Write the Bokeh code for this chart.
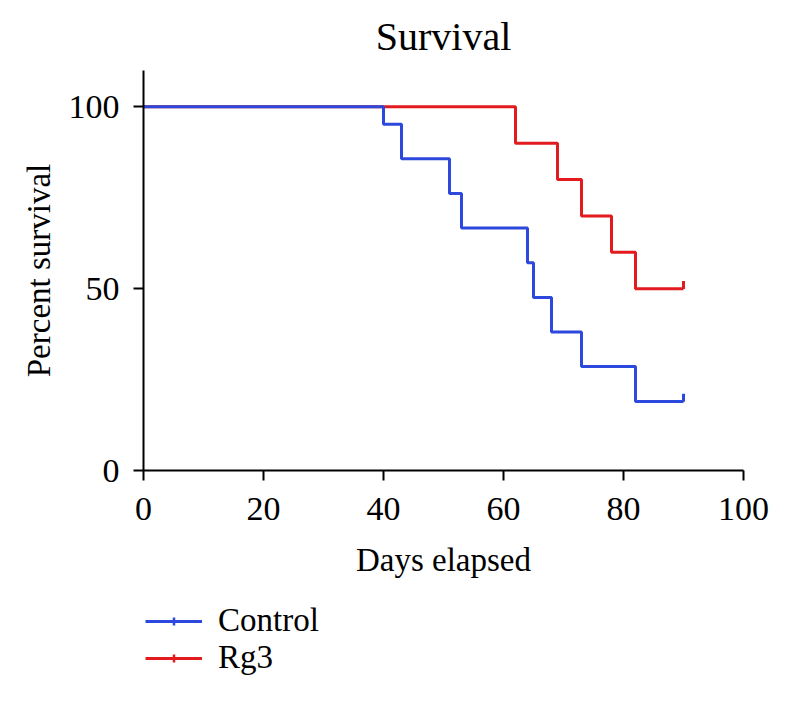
import math
from bokeh.plotting import figure
from bokeh.layouts import column
from bokeh.models import Legend, LegendItem, FixedTicker, Range1d
from bokeh.embed import file_html
from bokeh.resources import INLINE

# Data
control_days = [0, 40, 43, 51, 53, 64, 65, 68, 73, 82, 90]
control_surv = [100, 95.2, 85.7, 76.2, 66.7, 57.1, 47.6, 38.1, 28.6, 19.0, 19.0]
rg3_days = [0, 62, 69, 73, 78, 82, 90]
rg3_surv = [100, 90, 80, 70, 60, 50, 50]
control_censor_days = [90]
control_censor_surv = [19.0]
rg3_censor_days = [90]
rg3_censor_surv = [50]
x_ticks = [0, 20, 40, 60, 80, 100]
y_ticks = [0, 50, 100]
series_names = ["Control", "Rg3"]

BLUE = "#2d48dc"
RED = "#e31b1f"
FONT = "Liberation Serif"

p = figure(frame_width=600, frame_height=400,
           min_border_left=143, min_border_right=35,
           min_border_top=70, min_border_bottom=130,
           x_range=Range1d(0, 100), y_range=Range1d(0, 110),
           output_backend="svg", toolbar_location=None,
           title="Survival")
p.title.align = "center"
p.title.text_font = FONT
p.title.text_font_size = "40px"
p.title.text_font_style = "normal"
p.title.text_color = "black"
p.title.standoff = 23

p.outline_line_color = None
p.xgrid.visible = False
p.ygrid.visible = False

for ax in (p.xaxis[0], p.yaxis[0]):
    ax.axis_line_width = 2
    ax.axis_line_color = "black"
    ax.major_tick_line_width = 2
    ax.major_tick_line_color = "black"
    ax.major_tick_out = 10
    ax.major_tick_in = 0
    ax.minor_tick_line_color = None
    ax.major_label_text_font = FONT
    ax.major_label_text_font_size = "34px"
    ax.major_label_text_color = "black"
    ax.axis_label_text_font = FONT
    ax.axis_label_text_font_size = "33px"
    ax.axis_label_text_font_style = "normal"
    ax.axis_label_text_color = "black"

p.xaxis[0].ticker = FixedTicker(ticks=x_ticks)
p.yaxis[0].ticker = FixedTicker(ticks=y_ticks)
p.xaxis[0].axis_label = "Days elapsed"
p.yaxis[0].axis_label = "Percent survival"
p.xaxis[0].major_label_standoff = 17
p.xaxis[0].axis_label_standoff = 19
p.yaxis[0].major_label_standoff = 14
p.yaxis[0].axis_label_standoff = 9
p.yaxis[0].major_label_orientation = "horizontal"

# Rg3 first (below), then control on top
p.step(rg3_days, rg3_surv, mode="after", line_color=RED, line_width=3)
p.scatter(rg3_censor_days, [s + 1.0 for s in rg3_censor_surv],
          marker="dash", angle=math.pi / 2, size=8, line_color=RED, line_width=3)
p.step(control_days, control_surv, mode="after", line_color=BLUE, line_width=3)
p.scatter(control_censor_days, [s + 1.0 for s in control_censor_surv],
          marker="dash", angle=math.pi / 2, size=8, line_color=BLUE, line_width=3)

# Legend placed in its own strip below the chart; its proxy glyphs use the
# same series but lie outside this strip's visible ranges.
lg = figure(width=778, height=94, min_border_left=127, min_border_right=0,
            min_border_top=0, min_border_bottom=0,
            x_axis_type=None, y_axis_type=None,
            x_range=Range1d(-2, -1), y_range=Range1d(-2, -1),
            output_backend="svg", toolbar_location=None)
lg.outline_line_color = None
lg.xgrid.visible = False
lg.ygrid.visible = False
items = []
for name, col, xd, yd, cx, cy in zip(
        series_names, [BLUE, RED],
        [control_days, rg3_days], [control_surv, rg3_surv],
        [control_censor_days, rg3_censor_days], [control_censor_surv, rg3_censor_surv]):
    lr = lg.line(x=xd, y=yd, line_color=col, line_width=3)
    sr = lg.scatter(x=cx, y=cy, marker="cross", size=9,
                    line_color=col, line_width=2.5)
    items.append(LegendItem(label=name, renderers=[lr, sr]))

legend = Legend(items=items, location="top_left", orientation="vertical")
legend.border_line_color = None
legend.background_fill_alpha = 0
legend.label_text_font = FONT
legend.label_text_font_size = "33px"
legend.label_text_color = "black"
legend.glyph_width = 57
legend.glyph_height = 20
legend.label_standoff = 16
legend.spacing = -2
legend.padding = 0
legend.margin = 2
lg.add_layout(legend, "center")

layout = column(p, lg, spacing=0)
open("out.html", "w").write(file_html(layout, INLINE))
